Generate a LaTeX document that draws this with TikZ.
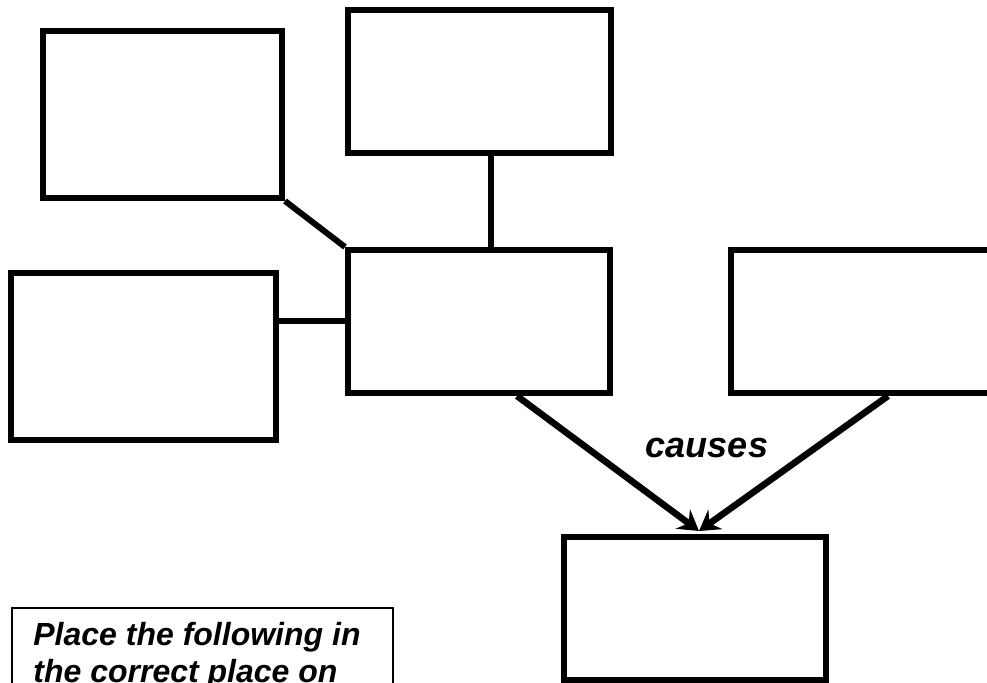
\documentclass[tikz,border=0pt]{standalone}
\usepackage{fontspec}
\setmainfont{Liberation Sans}
\usetikzlibrary{arrows.meta}
\begin{document}
\begin{tikzpicture}[x=0.5pt,y=-0.5pt,
  box/.style={draw=black,line width=3pt,rectangle,inner sep=0pt,fill=white},
  link/.style={draw=black,line width=3pt},
  arr/.style={draw=black,line width=3.3pt,-{Stealth[length=10pt,width=12pt,inset=3.5pt]}},
  lbl/.style={font=\fontsize{18}{21}\selectfont\bfseries\itshape,inner sep=0pt},
  notetext/.style={font=\fontsize{16}{18.5}\selectfont\bfseries\itshape,inner sep=0pt,anchor=base west}]
\useasboundingbox (0,0) rectangle (987,683);
\clip (0,0) rectangle (987,683);
\fill[white] (0,0) rectangle (987,683);

% boxes
\node[box,minimum width=119.5pt,minimum height=83.5pt] (tl)  at (162.5,114.5) {};
\node[box,minimum width=131.5pt,minimum height=71.5pt] (top) at (479.5,81.5) {};
\node[box,minimum width=132.5pt,minimum height=83.5pt] (lft) at (143,357) {};
\node[box,minimum width=131pt,minimum height=71.5pt]   (mid) at (479,321.5) {};
\node[box,minimum width=131pt,minimum height=71.5pt]   (rgt) at (862,321.5) {};
\node[box,minimum width=131pt,minimum height=71.5pt]   (bot) at (695,608.5) {};

% instruction box (runs past the lower edge)
\node[draw=black,line width=1pt,rectangle,minimum width=190.5pt,minimum height=80pt,inner sep=0pt] (note) at (202.5,688) {};
\node[notetext] (n1) at (33,646) {Place the following in};
\node[notetext] (n2) at (33,683) {the correct place on};

% links
\coordinate (vx) at (491,0);
\coordinate (a1) at (517,0);
\coordinate (a2) at (888,0);
\coordinate (tipx) at (699,0);
\draw[link] (tl.south east) -- (mid.north west);
\draw[link] (top.south -| vx) -- (mid.north -| vx);
\draw[link] (lft.east |- mid.west) -- (mid.west);
\draw[arr] (mid.south -| a1) -- ([yshift=1.5pt]bot.north -| tipx);
\draw[arr] (rgt.south -| a2) -- ([yshift=1.5pt]bot.north -| tipx);

\node[lbl] (causes) at (707,448) {causes};
\end{tikzpicture}
\end{document}
